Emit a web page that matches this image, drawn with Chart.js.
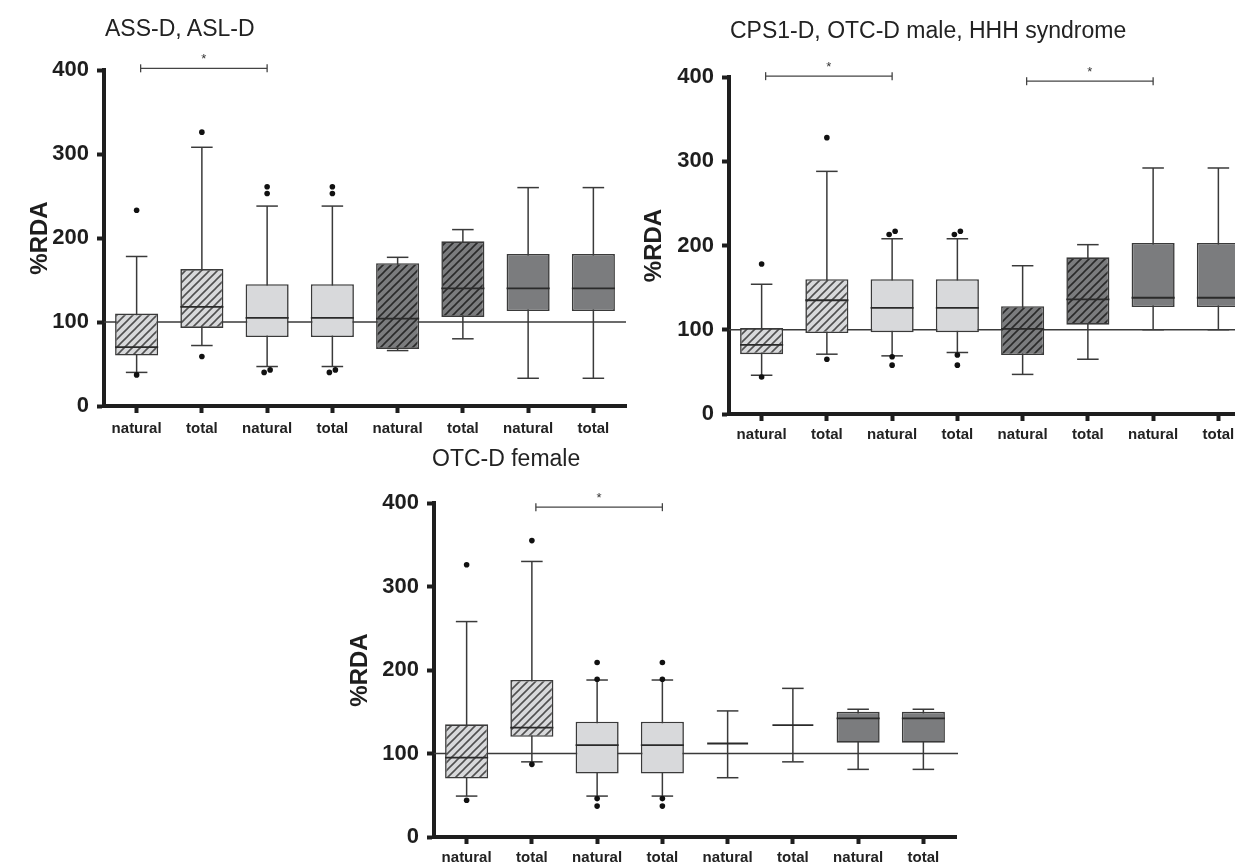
<!DOCTYPE html>
<html>
<head>
<meta charset="utf-8">
<script src="https://cdn.jsdelivr.net/npm/chart.js@4.4.1/dist/chart.umd.min.js"></script>
<style>
  html, body { margin: 0; padding: 0; background: #fff; }
  body { width: 1235px; height: 865px; overflow: hidden; position: relative; font-family: 'Liberation Sans', Arial, sans-serif; }
  canvas { position: absolute; }
  .ttl { position: absolute; font-size: 23px; color: #222; white-space: nowrap; line-height: 26px; z-index: 2; }
</style>
</head>
<body>
<div class="ttl" style="left:105px; top:15px;">ASS-D, ASL-D</div>
<div class="ttl" style="left:730px; top:17px;">CPS1-D, OTC-D male, HHH syndrome</div>
<div class="ttl" style="left:432px; top:445px;">OTC-D female</div>

<canvas id="c1" width="640" height="470" style="left:0; top:0;"></canvas>
<canvas id="c2" width="640" height="470" style="left:620px; top:0;"></canvas>
<canvas id="c3" width="660" height="400" style="left:320px; top:465px;"></canvas>

<script>
const CATEGORIES = ['natural', 'total', 'natural', 'total', 'natural', 'total', 'natural', 'total'];
const Y_TICKS = [0, 100, 200, 300, 400];
const REF_VALUE = 100;

// ASS-D, ASL-D
const assQ1  = [60, 93, 82, 82, 68, 106, 113, 113];
const assMed = [70, 118, 105, 105, 104, 140, 140, 140];
const assQ3  = [110, 163, 145, 145, 170, 196, 181, 181];
const assLo  = [40, 72, 47, 47, 66, 80, 33, 33];
const assHi  = [178, 308, 238, 238, 177, 210, 260, 260];
const assOut = [[233, 37], [326, 59], [261, 253, 40, 43], [261, 253, 40, 43], [], [], [], []];
const assSig = [[0, 2, 402]];

// CPS1-D, OTC-D male, HHH syndrome
const cpsQ1  = [71, 96, 97, 97, 70, 106, 127, 127];
const cpsMed = [82, 135, 126, 126, 101, 136, 138, 138];
const cpsQ3  = [102, 160, 160, 160, 128, 186, 203, 203];
const cpsLo  = [46, 71, 69, 73, 47, 65, 100, 100];
const cpsHi  = [154, 288, 208, 208, 176, 201, 292, 292];
const cpsOut = [[178, 44], [328, 65], [213, 217, 68, 58], [213, 217, 70, 58], [], [], [], []];
const cpsSig = [[0, 2, 401], [4, 6, 395]];

// OTC-D female
const otcQ1  = [70, 120, 76, 76, null, null, 113, 113];
const otcMed = [95, 131, 110, 110, 112, 134, 142, 142];
const otcQ3  = [135, 188, 138, 138, null, null, 150, 150];
const otcLo  = [49, 90, 49, 49, 71, 90, 81, 81];
const otcHi  = [258, 330, 188, 188, 151, 178, 153, 153];
const otcOut = [[326, 44], [355, 87], [209, 189, 46, 37], [209, 189, 46, 37], [], [], [], []];
const otcSig = [[1, 3, 395]];

const FONT = "'Liberation Sans', Arial, sans-serif";
const INK = '#1e1e1e';
const LINE = '#3a3a3a';
const BOX_FRAC = 0.66;
const CAP_FRAC = 0.33;

function hatch(bg, fg) {
  const c = document.createElement('canvas');
  c.width = c.height = 8;
  const g = c.getContext('2d');
  g.fillStyle = bg;
  g.fillRect(0, 0, 8, 8);
  g.strokeStyle = fg;
  g.lineWidth = 1.6;
  g.beginPath();
  g.moveTo(0, 8); g.lineTo(8, 0);
  g.moveTo(-2, 2); g.lineTo(2, -2);
  g.moveTo(6, 10); g.lineTo(10, 6);
  g.stroke();
  return g.createPattern(c, 'repeat');
}

const LIGHT = '#d8d9db';
const DARK = '#7b7c7e';
const FILLS = [
  hatch(LIGHT, '#505050'), hatch(LIGHT, '#505050'),
  LIGHT, LIGHT,
  hatch(DARK, '#2a2a2a'), hatch(DARK, '#2a2a2a'),
  DARK, DARK
];

function seg(ctx, x1, y1, x2, y2) {
  ctx.beginPath();
  ctx.moveTo(x1, y1);
  ctx.lineTo(x2, y2);
  ctx.stroke();
}

// whiskers, medians, outliers, reference line and significance brackets
function extras(pn) {
  return {
    id: 'extras',
    beforeDatasetsDraw(chart) {
      const { ctx, chartArea: a, scales: { x, y } } = chart;
      const step = x.getPixelForValue(1) - x.getPixelForValue(0);
      ctx.save();
      ctx.strokeStyle = LINE;
      ctx.lineWidth = 1.3;
      const yr = y.getPixelForValue(REF_VALUE);
      seg(ctx, a.left, yr, a.right + pn.refExtra, yr);
      ctx.lineWidth = 1.5;
      pn.hi.forEach((h, i) => {
        const cx = x.getPixelForValue(i);
        const yh = y.getPixelForValue(h);
        const yl = y.getPixelForValue(pn.lo[i]);
        const cw = step * CAP_FRAC / 2;
        seg(ctx, cx, yh, cx, yl);
        seg(ctx, cx - cw, yh, cx + cw, yh);
        seg(ctx, cx - cw, yl, cx + cw, yl);
      });
      ctx.restore();
    },
    afterDatasetsDraw(chart) {
      const { ctx, scales: { x, y } } = chart;
      const step = x.getPixelForValue(1) - x.getPixelForValue(0);
      ctx.save();
      ctx.strokeStyle = '#2a2a2a';
      ctx.lineWidth = 1.8;
      pn.med.forEach((m, i) => {
        const cx = x.getPixelForValue(i);
        const hw = step * BOX_FRAC / 2 * (pn.q1[i] == null ? 0.95 : 1);
        const ym = y.getPixelForValue(m);
        seg(ctx, cx - hw, ym, cx + hw, ym);
      });
      ctx.fillStyle = '#111';
      pn.out.forEach((list, i) => {
        const cx = x.getPixelForValue(i);
        const s = list.slice().sort((p, q) => p - q);
        s.forEach((v, k) => {
          let dx = 0;
          if (k + 1 < s.length && s[k + 1] - v < 6) dx = -3;
          if (k > 0 && v - s[k - 1] < 6) dx = 3;
          ctx.beginPath();
          ctx.arc(cx + dx, y.getPixelForValue(v), 2.8, 0, Math.PI * 2);
          ctx.fill();
        });
      });
      ctx.strokeStyle = '#444';
      ctx.lineWidth = 1.3;
      ctx.fillStyle = '#333';
      ctx.font = '13px ' + FONT;
      ctx.textAlign = 'center';
      ctx.textBaseline = 'middle';
      pn.sig.forEach(([from, to, v]) => {
        const x1 = x.getPixelForValue(from) + 4;
        const x2 = x.getPixelForValue(to);
        const yb = y.getPixelForValue(v);
        seg(ctx, x1, yb, x2, yb);
        seg(ctx, x1, yb - 4, x1, yb + 4);
        seg(ctx, x2, yb - 4, x2, yb + 4);
        ctx.fillText('*', (x1 + x2) / 2, yb - 9);
      });
      ctx.restore();
    }
  };
}

function makePanel(pn) {
  const tickFont = { family: FONT, size: 22, weight: 'bold' };
  return new Chart(document.getElementById(pn.id), {
    type: 'bar',
    data: {
      labels: CATEGORIES,
      datasets: [{
        data: pn.q1.map((v, i) => v == null ? null : [v, pn.q3[i]]),
        backgroundColor: FILLS,
        borderColor: LINE,
        borderWidth: 1.6,
        borderSkipped: false,
        barPercentage: BOX_FRAC,
        categoryPercentage: 1
      }]
    },
    options: {
      responsive: false,
      animation: false,
      events: [],
      layout: { padding: pn.pad },
      plugins: { legend: { display: false }, tooltip: { enabled: false } },
      scales: {
        x: {
          offset: true,
          grid: { display: true, offset: false, drawOnChartArea: false, drawTicks: true, tickLength: 7, tickWidth: 4, tickColor: INK },
          border: { display: true, width: 4, color: INK },
          ticks: { font: { family: FONT, size: 15, weight: 'bold' }, color: '#222', padding: pn.xpad, autoSkip: false, maxRotation: 0 },
          afterFit: s => { s.height = pn.xh; }
        },
        y: {
          min: 0,
          max: 400,
          afterBuildTicks: s => { s.ticks = Y_TICKS.map(v => ({ value: v })); },
          grid: { display: true, drawOnChartArea: false, drawTicks: true, tickLength: 7, tickWidth: 4, tickColor: INK },
          border: { display: true, width: 4, color: INK },
          ticks: { font: tickFont, color: INK, padding: 8 },
          title: { display: true, text: '%RDA', font: { family: FONT, size: 24, weight: 'bold' }, color: INK, padding: { top: 0, bottom: 0 } },
          afterFit: s => { s.width = pn.yw; }
        }
      }
    },
    plugins: [extras(pn)]
  });
}

makePanel({ id: 'c1', q1: assQ1, med: assMed, q3: assQ3, lo: assLo, hi: assHi, out: assOut, sig: assSig,
  pad: { top: 70, left: 26, right: 14, bottom: 24 }, yw: 78, xh: 40, xpad: 7, refExtra: 0 });
makePanel({ id: 'c2', q1: cpsQ1, med: cpsMed, q3: cpsQ3, lo: cpsLo, hi: cpsHi, out: cpsOut, sig: cpsSig,
  pad: { top: 77, left: 20, right: 9, bottom: 16 }, yw: 89, xh: 40, xpad: 5, refExtra: 0 });
makePanel({ id: 'c3', q1: otcQ1, med: otcMed, q3: otcQ3, lo: otcLo, hi: otcHi, out: otcOut, sig: otcSig,
  pad: { top: 38, left: 26, right: 24, bottom: 0 }, yw: 88, xh: 28, xpad: 5, refExtra: 2 });
</script>
</body>
</html>
